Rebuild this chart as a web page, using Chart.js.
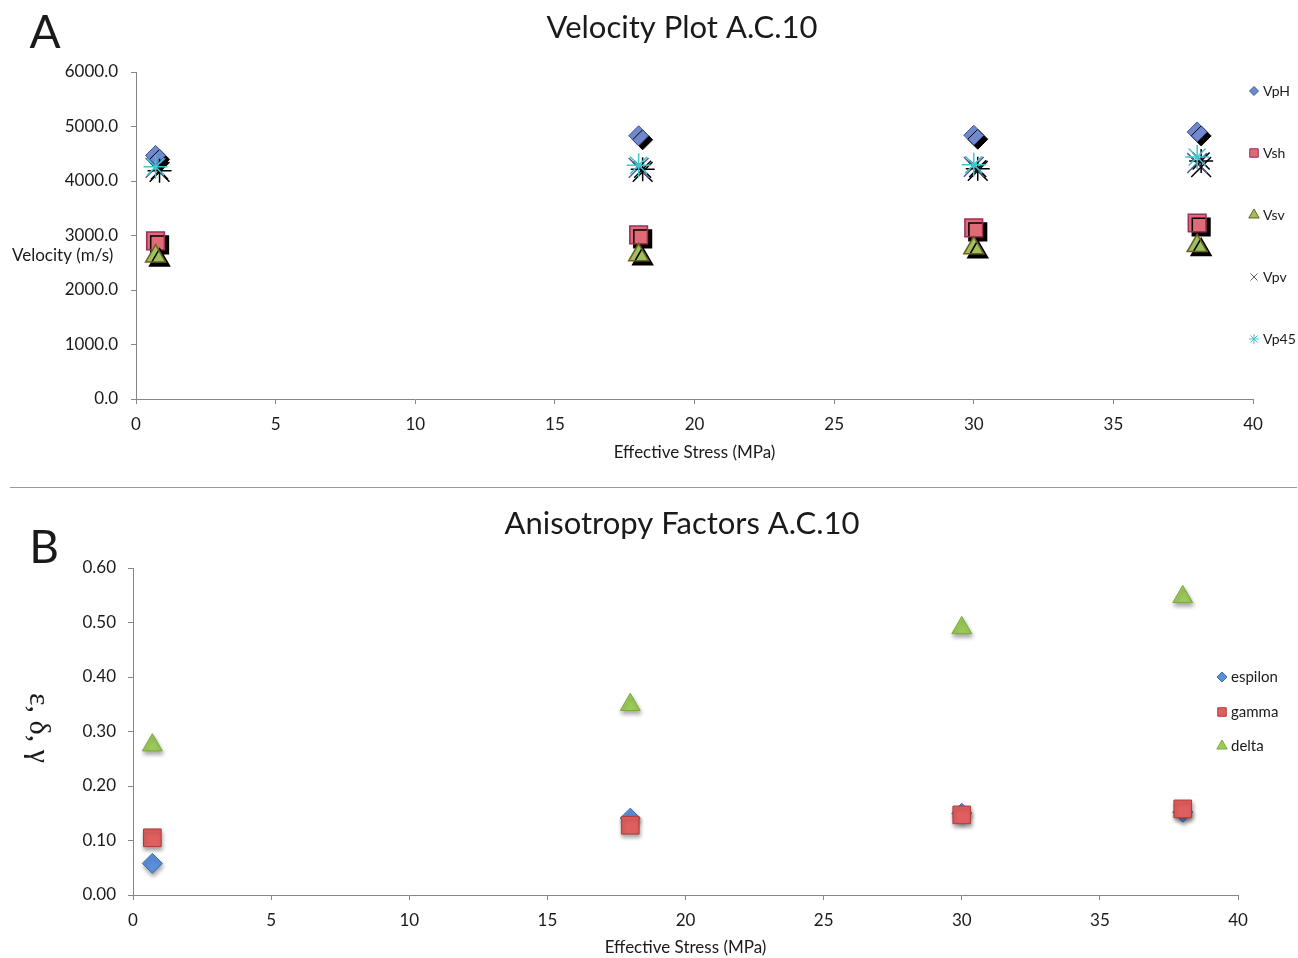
<!DOCTYPE html>
<html><head><meta charset="utf-8">
<script src="https://cdn.jsdelivr.net/npm/chart.js@4.4.1/dist/chart.umd.min.js"></script>
<style>
html,body{margin:0;padding:0;background:#fff;width:1298px;height:958px;overflow:hidden;}
#c1{position:absolute;left:0;top:0;}
#c2{position:absolute;left:0;top:490px;}
#sep{position:absolute;left:10px;top:487px;width:1287px;height:1px;background:#9a9a9a;}
</style></head><body>
<canvas id="c1" width="1298" height="485"></canvas>
<div id="sep"></div>
<canvas id="c2" width="1298" height="468"></canvas>
<script>
// ---- Data: panel A (velocities, m/s) ----
const stressA = [0.7, 18, 30, 38];
const VpH  = [4470, 4830, 4840, 4900];
const Vsh  = [2900, 3010, 3140, 3230];
const Vsv  = [2620, 2640, 2770, 2810];
const Vpv  = [4240, 4240, 4260, 4330];
const Vp45 = [4260, 4290, 4300, 4440];
const namesA = ['VpH', 'Vsh', 'Vsv', 'Vpv', 'Vp45'];
// ---- Data: panel B (anisotropy factors) ----
const stressB = [0.7, 18, 30, 38];
const espilon = [0.058, 0.141, 0.150, 0.152];
const gamma   = [0.105, 0.128, 0.147, 0.158];
const delta   = [0.275, 0.349, 0.490, 0.547];
const namesB = ['espilon', 'gamma', 'delta'];
const titleA = 'Velocity Plot A.C.10';
const titleB = 'Anisotropy Factors A.C.10';
const xTitle = 'Effective Stress (MPa)';
const yTitleA = 'Velocity (m/s)';
const yTitleB = 'ε, δ, γ';

const FONT = 'Lato, "Open Sans", sans-serif';
const TXT = '#1a1a1a';
const AX = '#868686';

function pts(xs, ys){ return xs.map((x,i)=>({x:x, y:ys[i]})); }

const shadowPlugin = {
  id:'markerShadow',
  beforeDatasetDraw(chart, args, opts){
    const c = chart.ctx; c.save();
    c.shadowColor = opts.color; c.shadowBlur = opts.blur;
    c.shadowOffsetX = opts.dx; c.shadowOffsetY = opts.dy;
  },
  afterDatasetDraw(chart){ chart.ctx.restore(); }
};

const textPlugin = {
  id:'texts',
  afterDraw(chart, args, o){
    const c = chart.ctx, a = chart.chartArea;
    c.save();
    c.fillStyle = TXT;
    c.textBaseline = 'middle';
    // panel letter
    c.font = '46px ' + FONT; c.textAlign = 'center';
    c.fillText(o.letter, o.letterX, o.letterY);
    // title
    c.font = '31px ' + FONT;
    c.fillText(o.title, o.titleX, o.titleY);
    // x title
    c.font = '17px ' + FONT;
    c.fillText(xTitle, (a.left + a.right)/2, o.xTitleY);
    // y title
    if (o.yRot) {
      c.save(); c.translate(o.yTitleX, o.yTitleY); c.rotate(Math.PI/2);
      c.font = o.yFont; c.textAlign = 'center';
      c.fillText(o.yTitle, 0, 0); c.restore();
    } else {
      c.font = o.yFont; c.textAlign = 'left';
      c.fillText(o.yTitle, o.yTitleX, o.yTitleY);
    }
    // legend
    c.font = o.legFont; c.textAlign = 'left';
    chart.data.datasets.forEach((ds, i) => {
      const y = o.legY[i];
      c.fillStyle = ds.backgroundColor; c.strokeStyle = ds.borderColor;
      c.lineWidth = 1;
      Chart.helpers.drawPoint(c, {pointStyle: ds.pointStyle, radius: o.legR[i], borderWidth: 1, rotation: 0}, o.legX, y);
      c.fillStyle = TXT;
      c.fillText(ds.label, o.legX + 9, y);
    });
    c.restore();
  }
};

function scales(cfg){
  return {
    x: { type:'linear', min:0, max:40,
      ticks:{ stepSize:5, color:TXT, font:{family:FONT, size:17}, padding:10, maxRotation:0 },
      grid:{ drawOnChartArea:false, drawTicks:true, tickLength:5, color:AX },
      border:{ color:AX, width:1 },
      afterFit(s){ s.height = cfg.xh; } },
    y: { type:'linear', min:0, max:cfg.ymax,
      ticks:{ stepSize:cfg.step, color:TXT, font:{family:FONT, size:17}, padding:cfg.ypad,
        callback:v => Number(v).toFixed(cfg.dec) },
      grid:{ drawOnChartArea:false, drawTicks:true, tickLength:5, color:AX },
      border:{ color:AX, width:1 },
      afterFit(s){ s.width = cfg.yw; } }
  };
}

// ---- Chart A ----
const colA = [
  {bg:'#6f89cc', bd:'#3c5698', ps:'rectRot', r:10, bw:1},
  {bg:'#de6b76', bd:'#9c2c58', ps:'rect', r:12.5, bw:1.5},
  {bg:'#9dbf5e', bd:'#6e5f22', ps:'triangle', r:11.5, bw:1.5},
  {bg:'#5a5a96', bd:'#5a5a96', ps:'crossRot', r:14, bw:1.5},
  {bg:'#3fc6cc', bd:'#3fc6cc', ps:'star', r:12, bw:1.5}
];
const seriesA = [VpH, Vsh, Vsv, Vpv, Vp45];
new Chart(document.getElementById('c1'), {
  type:'scatter',
  data:{ datasets: seriesA.map((s,i)=>({
    label:namesA[i], data:pts(stressA, s), order:5-i,
    pointStyle:colA[i].ps, pointRadius:colA[i].r, pointHoverRadius:colA[i].r,
    backgroundColor:colA[i].bg, borderColor:colA[i].bd, pointBorderWidth:colA[i].bw, showLine:false })) },
  options:{
    responsive:false, animation:false, devicePixelRatio:1,
    layout:{ padding:{ left:0, right:45, top:72, bottom:0 } },
    scales: scales({xh:86, yw:136, ymax:6000, step:1000, dec:1, ypad:13}),
    plugins:{ legend:{display:false}, tooltip:{enabled:false},
      markerShadow:{ color:'#000', blur:0, dx:4, dy:4 },
      texts:{ letter:'A', letterX:45, letterY:33, title:titleA, titleX:682, titleY:28,
        xTitleY:453, yTitle:yTitleA, yTitleX:12, yTitleY:256, yRot:false, yFont:'17px '+FONT,
        legFont:'14px '+FONT, legX:1254, legY:[91,153,215,277,339], legR:[4.5,6,6,5,5] } }
  },
  plugins:[shadowPlugin, textPlugin]
});

// ---- Chart B ----
const colB = [
  {bg:'#5b8fd9', bd:'#3b6bb2', ps:'rectRot', r:10, bw:1},
  {bg:'#e0605f', bd:'#b23a3a', ps:'rect', r:12.5, bw:1},
  {bg:'#9dcb5a', bd:'#7aa83e', ps:'triangle', r:11.5, bw:1}
];
const seriesB = [espilon, gamma, delta];
new Chart(document.getElementById('c2'), {
  type:'scatter',
  data:{ datasets: seriesB.map((s,i)=>({
    label:namesB[i], data:pts(stressB, s), order:3-i,
    pointStyle:colB[i].ps, pointRadius:colB[i].r, pointHoverRadius:colB[i].r,
    backgroundColor:colB[i].bg, borderColor:colB[i].bd, pointBorderWidth:colB[i].bw, showLine:false })) },
  options:{
    responsive:false, animation:false, devicePixelRatio:1,
    layout:{ padding:{ left:0, right:60, top:78, bottom:0 } },
    scales: scales({xh:63, yw:133, ymax:0.6, step:0.1, dec:2, ypad:12}),
    plugins:{ legend:{display:false}, tooltip:{enabled:false},
      markerShadow:{ color:'rgba(0,0,0,0.35)', blur:4, dx:1, dy:3 },
      texts:{ letter:'B', letterX:44, letterY:58, title:titleB, titleX:682, titleY:34,
        xTitleY:458, yTitle:yTitleB, yTitleX:38, yTitleY:238, yRot:true, yFont:'30px "Liberation Serif", serif',
        legFont:'15px '+FONT, legX:1222, legY:[187,222,256], legR:[5,6,6] } }
  },
  plugins:[shadowPlugin, textPlugin]
});
</script>
</body></html>
